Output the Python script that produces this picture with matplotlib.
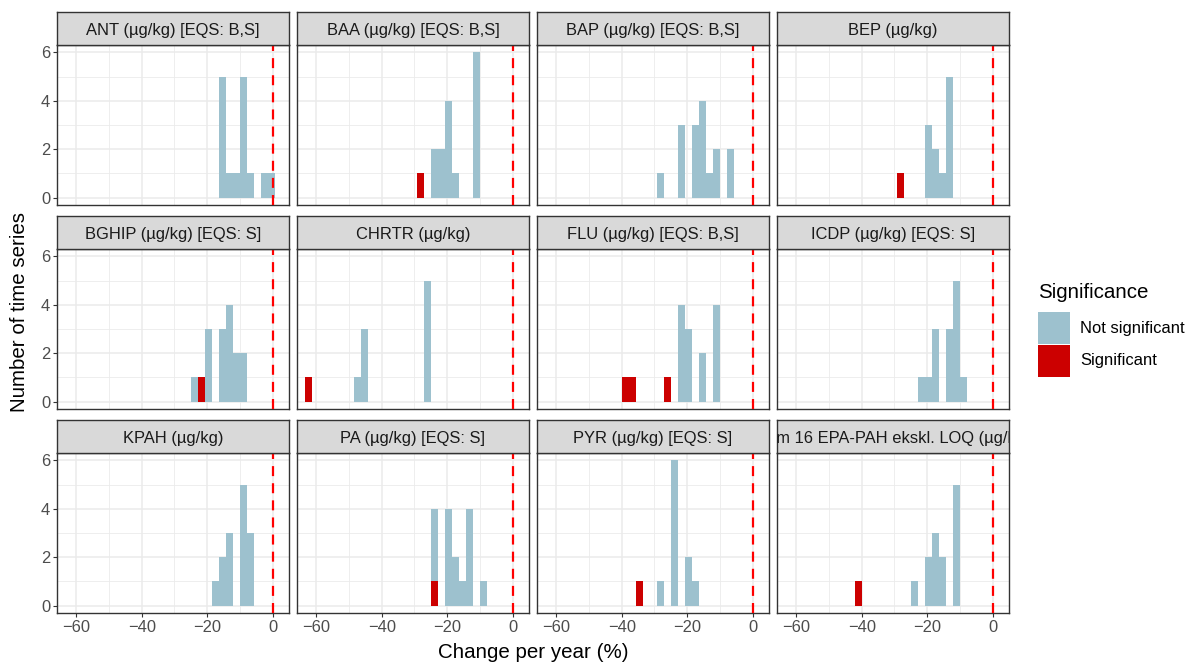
import matplotlib
matplotlib.use("Agg")
import matplotlib.pyplot as plt
from matplotlib.patches import Rectangle

plt.rcParams['font.family'] = ['Liberation Sans', 'DejaVu Sans']

W_PX, H_PX, DPI = 1194, 663, 100

# ---- data (bin centres in % change per year, counts per bin) ----
BIN_W = 2.135
titles = ["ANT (µg/kg) [EQS: B,S]", "BAA (µg/kg) [EQS: B,S]", "BAP (µg/kg) [EQS: B,S]", "BEP (µg/kg)",
          "BGHIP (µg/kg) [EQS: S]", "CHRTR (µg/kg)", "FLU (µg/kg) [EQS: B,S]", "ICDP (µg/kg) [EQS: S]",
          "KPAH (µg/kg)", "PA (µg/kg) [EQS: S]", "PYR (µg/kg) [EQS: S]", "Sum 16 EPA-PAH ekskl. LOQ (µg/kg)"]

ns_bins = [
    [-15.27, -13.13, -11.00, -8.86, -6.73, -2.46, -0.32],
    [-23.81, -21.67, -19.54, -17.40, -11.00],
    [-28.08, -21.67, -17.40, -15.27, -13.13, -11.00, -6.73],
    [-19.54, -17.40, -15.27, -13.13],
    [-23.81, -19.54, -15.27, -13.13, -11.00, -8.86],
    [-47.29, -45.16, -25.94],
    [-21.67, -19.54, -15.27, -11.00],
    [-21.67, -19.54, -17.40, -13.13, -11.00, -8.86],
    [-17.40, -15.27, -13.13, -8.86, -6.73],
    [-23.81, -19.54, -17.40, -15.27, -13.13, -8.86],
    [-28.08, -23.81, -19.54, -17.40],
    [-23.81, -19.54, -17.40, -15.27, -11.00],
]
ns_counts = [
    [5, 1, 1, 5, 1, 1, 1],
    [2, 2, 4, 1, 6],
    [1, 3, 3, 4, 1, 2, 2],
    [3, 2, 1, 5],
    [1, 3, 3, 4, 2, 2],
    [1, 3, 5],
    [4, 3, 2, 4],
    [1, 1, 3, 3, 5, 1],
    [1, 2, 3, 5, 3],
    [3, 4, 2, 1, 4, 1],
    [1, 6, 2, 1],
    [1, 2, 3, 2, 5],
]
sig_bins = [
    [], [-28.08], [], [-28.08],
    [-21.67], [-62.24], [-38.75, -36.62, -25.94], [],
    [], [-23.81], [-34.48], [-40.89],
]
sig_counts = [
    [], [1], [], [1],
    [1], [1], [1, 1, 1], [],
    [], [1], [1], [1],
]

legend_labels = ["Not significant", "Significant"]
x_ticks = [-60, -40, -20, 0]
y_ticks = [0, 2, 4, 6]

COL_NS = "#9DC1CE"
COL_SIG = "#CC0000"
GRID = "#EBEBEB"
DARK = "#333333"
TICKTXT = "#4D4D4D"

fig = plt.figure(figsize=(W_PX / DPI, H_PX / DPI), dpi=DPI)

col_left = [57, 297, 537, 777]
panel_w = 232
row_top = [45, 249, 453]
panel_h = 160
strip_h = 33


def fx(px):
    return px / W_PX


def fy(px):
    return 1 - px / H_PX


for i, title in enumerate(titles):
    r, c = divmod(i, 4)
    x0 = col_left[c]
    y0 = row_top[r]
    ax = fig.add_axes([fx(x0), fy(y0 + panel_h), panel_w / W_PX, panel_h / H_PX])
    ax.set_xlim(-65.9, 5.0)
    ax.set_ylim(-0.3, 6.3)
    ax.set_axisbelow(True)
    ax.set_xticks(x_ticks)
    ax.set_xticks([-50, -30, -10], minor=True)
    ax.set_yticks(y_ticks)
    ax.set_yticks([1, 3, 5], minor=True)
    ax.grid(True, which='major', color=GRID, linewidth=1.1)
    ax.grid(True, which='minor', color=GRID, linewidth=0.6)
    ax.tick_params(which='minor', length=0)
    ax.tick_params(which='major', length=3, width=0.8, color=DARK,
                   labelsize=11.9, labelcolor=TICKTXT, pad=2)
    if c != 0:
        ax.tick_params(axis='y', which='major', length=0, labelleft=False)
    if r != 2:
        ax.tick_params(axis='x', which='major', length=0, labelbottom=False)
    for s in ax.spines.values():
        s.set_color(DARK)
        s.set_linewidth(1.0)

    # significant at the bottom, not significant stacked on top
    sb, sc = sig_bins[i], sig_counts[i]
    if sb:
        ax.bar(sb, sc, width=BIN_W, color=COL_SIG, linewidth=0, zorder=2)
    bottoms = [sum(n for b, n in zip(sb, sc) if abs(b - x) < 1e-6) for x in ns_bins[i]]
    ax.bar(ns_bins[i], ns_counts[i], width=BIN_W, bottom=bottoms, color=COL_NS,
           linewidth=0, zorder=2)
    ax.axvline(0, color="#FF0000", linewidth=1.6, linestyle=(0, (4.5, 3.2)), zorder=3)

    # strip
    sax = fig.add_axes([fx(x0), fy(y0), panel_w / W_PX, strip_h / H_PX])
    sax.set_facecolor("#D9D9D9")
    sax.set_xticks([])
    sax.set_yticks([])
    for s in sax.spines.values():
        s.set_color(DARK)
        s.set_linewidth(1.0)
    sax.text(0.5, 0.45, title, ha='center', va='center', fontsize=11.9,
             color="#1A1A1A", transform=sax.transAxes, clip_on=True)

# axis titles
fig.text(fx(533), fy(652), "Change per year (%)", ha='center', va='center',
         fontsize=14.8, color='black')
fig.text(fx(20), fy(312), "Number of time series", ha='center', va='center',
         rotation=90, fontsize=14.8, color='black')

# legend
fig.text(fx(1038), fy(293), "Significance", ha='left', va='center', fontsize=14.8, color='black')
for k, (lab, col) in enumerate(zip(legend_labels, [COL_NS, COL_SIG])):
    top = 312 + k * 33
    fig.add_artist(Rectangle((fx(1038), fy(top + 32)), 32 / W_PX, 32 / H_PX,
                             transform=fig.transFigure, facecolor=col, edgecolor='none'))
    fig.text(fx(1080), fy(top + 16), lab, ha='left', va='center', fontsize=11.9, color='black')

fig.savefig("out.png", dpi=DPI, facecolor='white')
